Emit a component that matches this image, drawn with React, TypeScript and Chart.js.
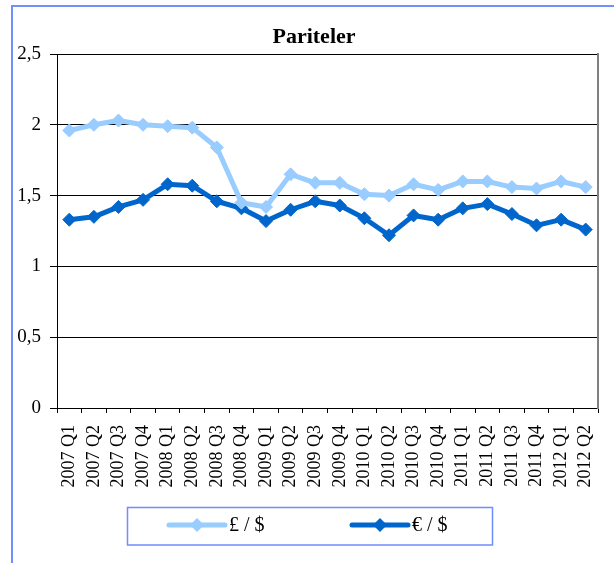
import React, { useEffect, useRef } from 'react';
import { Chart, registerables } from 'chart.js';

Chart.register(...registerables);

const categories = [
  '2007 Q1', '2007 Q2', '2007 Q3', '2007 Q4',
  '2008 Q1', '2008 Q2', '2008 Q3', '2008 Q4',
  '2009 Q1', '2009 Q2', '2009 Q3', '2009 Q4',
  '2010 Q1', '2010 Q2', '2010 Q3', '2010 Q4',
  '2011 Q1', '2011 Q2', '2011 Q3', '2011 Q4',
  '2012 Q1', '2012 Q2',
];

const gbpUsd = [
  1.96, 2.0, 2.03, 2.0, 1.99, 1.98, 1.84, 1.45, 1.42, 1.65, 1.59,
  1.59, 1.51, 1.5, 1.58, 1.54, 1.6, 1.6, 1.56, 1.55, 1.6, 1.56,
];

const eurUsd = [
  1.33, 1.35, 1.42, 1.47, 1.58, 1.57, 1.46, 1.41, 1.32, 1.4, 1.46,
  1.43, 1.34, 1.22, 1.36, 1.33, 1.41, 1.44, 1.37, 1.29, 1.33, 1.26,
];

const seriesNames = ['£ / $', '€ / $'];
const seriesColors = ['#99CCFF', '#0066CC'];
const chartTitle = 'Pariteler';
const yMin = 0;
const yMax = 2.5;
const yStep = 0.5;

const FONT = '"Liberation Serif", "Times New Roman", serif';

const frameAndLegend = {
  id: 'frameAndLegend',
  beforeDraw(chart: any) {
    const ctx = chart.ctx;
    ctx.save();
    ctx.fillStyle = '#ffffff';
    ctx.fillRect(0, 0, chart.width, chart.height);
    ctx.strokeStyle = '#7090FF';
    ctx.lineWidth = 2;
    ctx.strokeRect(12, 6, 800, 800);
    ctx.restore();
  },
  afterDraw(chart: any) {
    const ctx = chart.ctx;
    ctx.save();
    ctx.strokeStyle = '#6F8DFF';
    ctx.lineWidth = 1.5;
    ctx.strokeRect(127.5, 507.5, 365, 37.5);
    const starts = [169, 352];
    const y = 525;
    chart.data.datasets.forEach((ds: any, i: number) => {
      const x0 = starts[i];
      ctx.strokeStyle = ds.borderColor;
      ctx.lineWidth = 5;
      ctx.lineCap = 'round';
      ctx.beginPath();
      ctx.moveTo(x0, y);
      ctx.lineTo(x0 + 56, y);
      ctx.stroke();
      const cx = x0 + 28;
      const r = 7;
      ctx.fillStyle = ds.borderColor;
      ctx.beginPath();
      ctx.moveTo(cx, y - r);
      ctx.lineTo(cx + r, y);
      ctx.lineTo(cx, y + r);
      ctx.lineTo(cx - r, y);
      ctx.closePath();
      ctx.fill();
      ctx.fillStyle = '#000';
      ctx.font = `20px ${FONT}`;
      ctx.textBaseline = 'middle';
      ctx.textAlign = 'left';
      ctx.fillText(ds.label, x0 + 60, y + 1);
    });
    ctx.restore();
  },
};

const noPad = (s: any) => {
  s.paddingLeft = 0;
  s.paddingRight = 0;
  s.paddingTop = 0;
  s.paddingBottom = 0;
};

export default function App() {
  const ref = useRef<HTMLCanvasElement | null>(null);

  useEffect(() => {
    if (!ref.current) return;
    const chart = new Chart(ref.current, {
      type: 'line',
      data: {
        labels: categories,
        datasets: [
          {
            label: seriesNames[0],
            data: gbpUsd,
            borderColor: seriesColors[0],
            backgroundColor: seriesColors[0],
            borderWidth: 5,
            pointStyle: 'rectRot',
            pointRadius: 6.5,
            pointBorderWidth: 1,
            pointBorderColor: seriesColors[0],
            pointBackgroundColor: seriesColors[0],
            borderJoinStyle: 'round',
            tension: 0,
          },
          {
            label: seriesNames[1],
            data: eurUsd,
            borderColor: seriesColors[1],
            backgroundColor: seriesColors[1],
            borderWidth: 5,
            pointStyle: 'rectRot',
            pointRadius: 6.5,
            pointBorderWidth: 1,
            pointBorderColor: seriesColors[1],
            pointBackgroundColor: seriesColors[1],
            borderJoinStyle: 'round',
            tension: 0,
          },
        ],
      },
      options: {
        responsive: false,
        animation: false,
        devicePixelRatio: 1,
        layout: { padding: { left: 14, right: 0, top: 0, bottom: 0 } },
        plugins: {
          legend: { display: false },
          tooltip: { enabled: false },
          title: {
            display: true,
            text: chartTitle,
            color: '#000',
            font: { family: FONT, size: 22, weight: 'bold', lineHeight: '22px' },
            padding: { top: 26, bottom: 6 },
          },
        },
        scales: {
          x: {
            type: 'category',
            offset: true,
            grid: {
              display: true,
              drawOnChartArea: false,
              drawTicks: true,
              tickLength: 5,
              offset: true,
              color: '#000',
            },
            border: { display: true, color: '#000', width: 1 },
            ticks: {
              autoSkip: false,
              minRotation: 90,
              maxRotation: 90,
              padding: 12,
              color: '#000',
              font: { family: FONT, size: 18 },
            },
            afterFit: (s: any) => {
              s.height = 155;
              noPad(s);
            },
          },
          y: {
            type: 'linear',
            position: 'left',
            min: yMin,
            max: yMax,
            grid: {
              color: '#000',
              lineWidth: 1,
              drawTicks: true,
              tickLength: 7,
            },
            border: { display: true, color: '#000', width: 1 },
            ticks: {
              stepSize: yStep,
              padding: 9,
              color: '#000',
              font: { family: FONT, size: 19 },
              callback: (v: any) => String(v).replace('.', ','),
            },
            afterFit: (s: any) => {
              s.width = 43;
              noPad(s);
            },
          },
          y2: {
            type: 'linear',
            position: 'right',
            min: yMin,
            max: yMax,
            grid: { display: false, drawOnChartArea: false, drawTicks: false },
            border: { display: true, color: '#808080', width: 2 },
            ticks: { display: false },
            afterFit: (s: any) => {
              s.width = 16;
              noPad(s);
            },
          },
        },
      },
      plugins: [frameAndLegend],
    } as any);
    return () => chart.destroy();
  }, []);

  return (
    <div style={{ position: 'fixed', left: 0, top: 0, width: 614, height: 563, background: '#fff' }}>
      <canvas ref={ref} width={614} height={563} style={{ width: 614, height: 563, display: 'block' }} />
    </div>
  );
}
